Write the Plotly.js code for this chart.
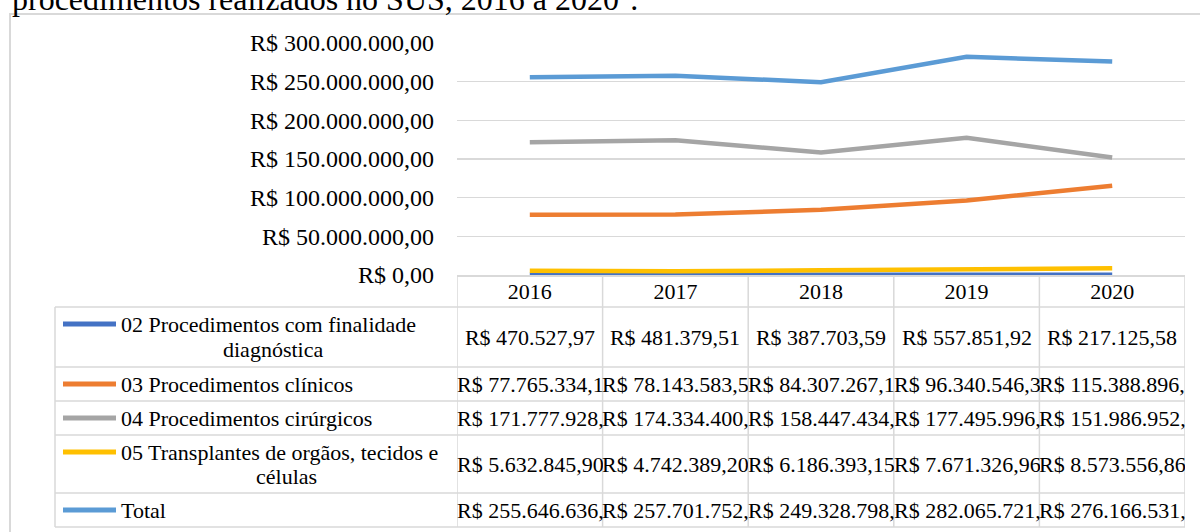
<!DOCTYPE html>
<html><head><meta charset="utf-8">
<script src="https://cdn.plot.ly/plotly-3.0.1.min.js"></script>
<style>html,body{margin:0;padding:0;background:#fff}#chart{width:1200px;height:532px}</style>
</head><body><div id="chart"></div>
<script>
// ---------------- data ----------------
const years = ['2016', '2017', '2018', '2019', '2020'];
const seriesNames = ['02 Procedimentos com finalidade diagnóstica', '03 Procedimentos clínicos',
  '04 Procedimentos cirúrgicos', '05 Transplantes de orgãos, tecidos e células', 'Total'];
const diagnostica = [470527.97, 481379.51, 387703.59, 557851.92, 217125.58];
const clinicos = [77765334.1, 78143583.5, 84307267.1, 96340546.3, 115388896.0];
const cirurgicos = [171777928.0, 174334400.0, 158447434.0, 177495996.0, 151986952.0];
const transplantes = [5632845.90, 4742389.20, 6186393.15, 7671326.96, 8573556.86];
const total = [255646636.0, 257701752.0, 249328798.0, 282065721.0, 276166531.0];

const yTickVals = [0, 50000000, 100000000, 150000000, 200000000, 250000000, 300000000];
const yTickText = ['R$ 0,00', 'R$ 50.000.000,00', 'R$ 100.000.000,00', 'R$ 150.000.000,00',
  'R$ 200.000.000,00', 'R$ 250.000.000,00', 'R$ 300.000.000,00'];

// table texts as displayed (cells clipped in the original)
const diagText = ['R$ 470.527,97', 'R$ 481.379,51', 'R$ 387.703,59', 'R$ 557.851,92', 'R$ 217.125,58'];
const clinText = ['R$ 77.765.334,1', 'R$ 78.143.583,5', 'R$ 84.307.267,1', 'R$ 96.340.546,3', 'R$ 115.388.896,'];
const cirText = ['R$ 171.777.928,', 'R$ 174.334.400,', 'R$ 158.447.434,', 'R$ 177.495.996,', 'R$ 151.986.952,'];
const transText = ['R$ 5.632.845,90', 'R$ 4.742.389,20', 'R$ 6.186.393,15', 'R$ 7.671.326,96', 'R$ 8.573.556,86'];
const totalText = ['R$ 255.646.636,', 'R$ 257.701.752,', 'R$ 249.328.798,', 'R$ 282.065.721,', 'R$ 276.166.531,'];
const rowLabels = [['02 Procedimentos com finalidade', 'diagnóstica'], ['03 Procedimentos clínicos'],
  ['04 Procedimentos cirúrgicos'], ['05 Transplantes de orgãos, tecidos e', 'células'], ['Total']];
const headingText = 'procedimentos realizados no SUS, 2016 a 2020<sup>1</sup>.';

// ---------------- styling / layout ----------------
const colors = ['#4472C4', '#ED7D31', '#A5A5A5', '#FFC000', '#5B9BD5'];
const FONT = 'Liberation Serif, Times New Roman, serif';
const gridCol = '#D9D9D9';
const L = 457, R = 1185, T = 43, B = 275, W = 1200, H = 532;
const X = px => (px - L) / (R - L);
const Y = py => (B - py) / (B - T);

const allSeries = [diagnostica, clinicos, cirurgicos, transplantes, total];
const allText = [diagText, clinText, cirText, transText, totalText];

const traces = allSeries.map((vals, i) => ({
  type: 'scatter', mode: 'lines', x: years, y: vals, name: seriesNames[i],
  line: {color: colors[i], width: 4.5}, cliponaxis: false, hoverinfo: 'x+y'
}));

// table geometry (pixel rows)
const rowBounds = [307, 367, 401, 435, 493, 527];
const tableLeft = 55;
const shapes = [];
const line = (x0, y0, x1, y1, xref, col, w) => shapes.push({type: 'line', xref: xref, yref: 'paper',
  x0: x0, x1: x1, y0: y0, y1: y1, line: {color: col || gridCol, width: w || 1.5}, layer: 'above'});

// outer frame
shapes.push({type: 'rect', xref: 'paper', yref: 'paper', x0: X(10), x1: X(1230), y0: Y(14), y1: Y(560),
  line: {color: gridCol, width: 2}, layer: 'below'});
// horizontal table lines
rowBounds.forEach(py => line(X(tableLeft), Y(py), X(R), Y(py), 'paper'));
// verticals
line(X(tableLeft), Y(rowBounds[0]), X(tableLeft), Y(rowBounds[5]), 'paper');
for (let k = 0; k <= years.length; k++) line(k - 0.5, Y(B), k - 0.5, Y(rowBounds[5]), 'x');

const annotations = [];
// heading (cut by page top, as in the original)
annotations.push({xref: 'paper', yref: 'paper', x: X(10), y: Y(19), xanchor: 'left', yanchor: 'bottom',
  text: headingText, showarrow: false, font: {family: FONT, size: 32, color: '#000'}});

const labelLineY = [[324, 349], [384], [418], [452, 476], [510]];
const labelLine2X = [273, 286];
rowLabels.forEach((lines, r) => {
  const cy = (rowBounds[r] + rowBounds[r + 1]) / 2;
  const sy = labelLineY[r][0];
  shapes.push({type: 'line', xref: 'paper', yref: 'paper', x0: X(63), x1: X(116), y0: Y(sy), y1: Y(sy),
    line: {color: colors[r], width: 5}, layer: 'above'});
  annotations.push({xref: 'paper', yref: 'paper', x: X(119), y: Y(labelLineY[r][0]), xanchor: 'left', yanchor: 'middle',
    text: lines[0], showarrow: false, font: {family: FONT, size: 22, color: '#000'}});
  if (lines.length > 1) {
    const c2 = r === 0 ? labelLine2X[0] : labelLine2X[1];
    annotations.push({xref: 'paper', yref: 'paper', x: X(c2), y: Y(labelLineY[r][1]), xanchor: 'center', yanchor: 'middle',
      text: lines[1], showarrow: false, font: {family: FONT, size: 22, color: '#000'}});
  }
  allText[r].forEach((t, c) => {
    annotations.push({xref: 'x', yref: 'paper', x: c, y: Y(cy), xanchor: 'center', yanchor: 'middle',
      text: t, showarrow: false, width: 146, borderpad: 0, align: r === 0 ? 'center' : 'left',
      font: {family: FONT, size: 22, color: '#000'}});
  });
});

const layout = {
  width: W, height: H, margin: {l: L, r: W - R, t: T, b: H - B, pad: 0},
  paper_bgcolor: '#fff', plot_bgcolor: '#fff', showlegend: false,
  font: {family: FONT, color: '#000'},
  xaxis: {type: 'category', range: [-0.5, 4.5], showgrid: false, zeroline: false,
    showline: true, linecolor: gridCol, linewidth: 1.5, ticks: '', ticklabelstandoff: -4,
    tickfont: {family: FONT, size: 22, color: '#000'}, fixedrange: true},
  yaxis: {range: [0, 300000000], tickvals: yTickVals, ticktext: yTickText, showgrid: true,
    gridcolor: gridCol, gridwidth: 1.5, zeroline: false, showline: false, ticks: '',
    ticklabelstandoff: 22, tickfont: {family: FONT, size: 24, color: '#000'}, fixedrange: true},
  shapes: shapes, annotations: annotations
};
Plotly.newPlot('chart', traces, layout, {displayModeBar: false, staticPlot: true});
</script></body></html>
